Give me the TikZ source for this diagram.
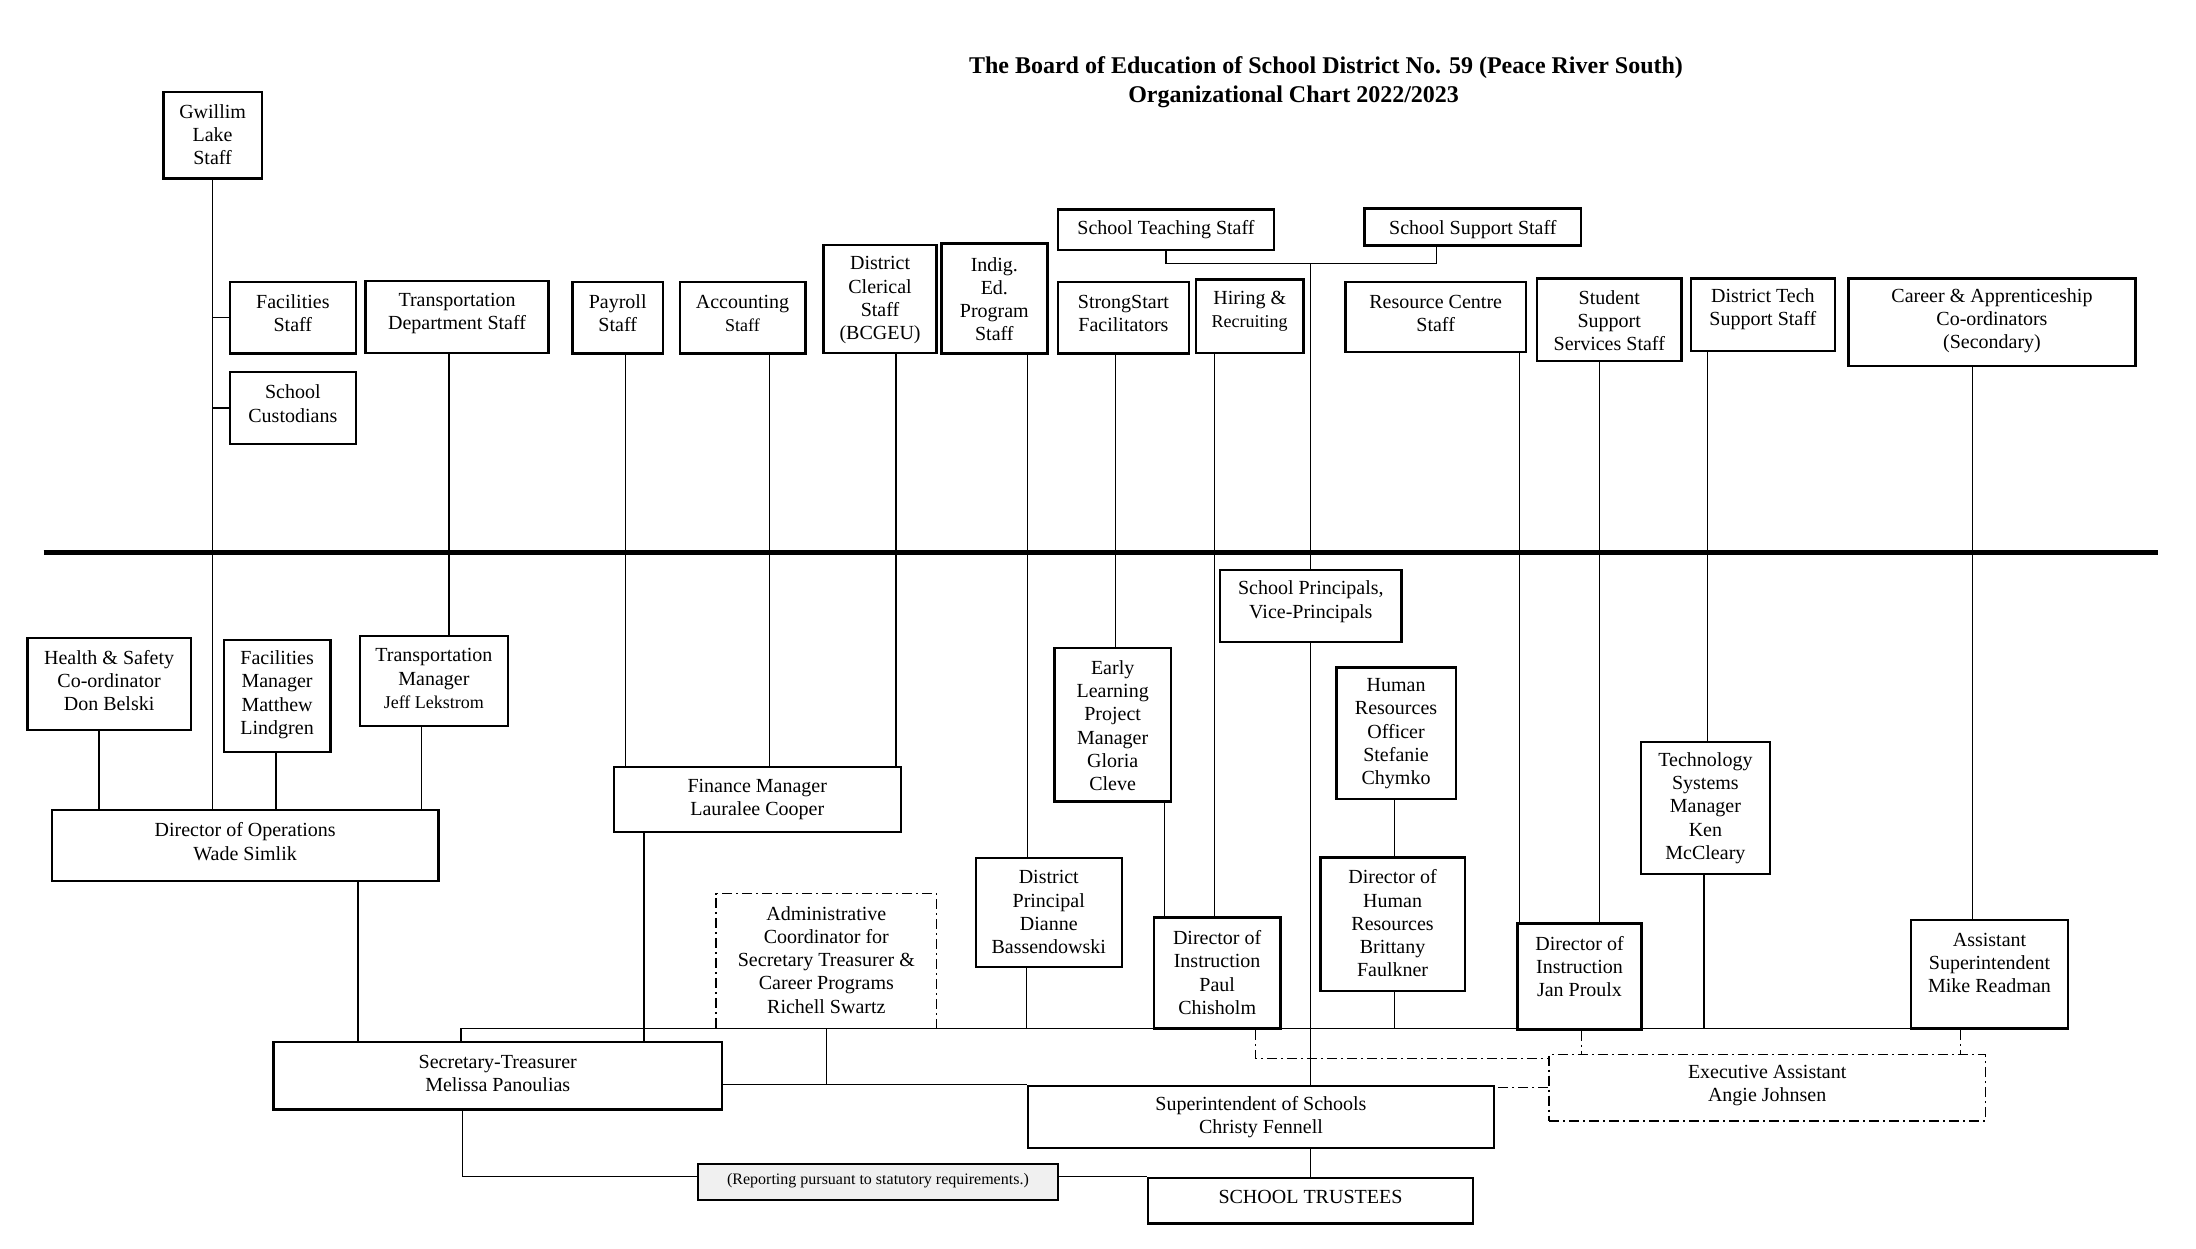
\documentclass[tikz,border=0pt]{standalone}
\usepackage{fontspec}
\setmainfont{Liberation Serif}
\usetikzlibrary{fit}
\newcommand\orgbox[8]{%
  \node[#1, fit={(#3,#4)(#5,#6)}] (#2) {};
  \node[txt] (#2-t) at ({(#3+#5)/2},#7) {#8};}
\newcommand\sm[1]{{\fontsize{9}{10}\selectfont #1}}
\begin{document}
\begin{tikzpicture}[x=0.5pt,y=-0.5pt,
  bx/.style={draw, line width=1.2pt, inner sep=0pt},
  dbx/.style={draw, line width=0.8pt, inner sep=0pt, dash pattern=on 5pt off 2pt on 1pt off 2pt},
  gbx/.style={draw, line width=1.2pt, inner sep=0pt, fill=gray!12},
  txt/.style={align=center, inner sep=0pt, font=\fontsize{10}{11.6}\selectfont},
  ttl/.style={inner sep=0pt, font=\bfseries\fontsize{12}{14}\selectfont},
  ln/.style={line width=0.7pt},
  dl/.style={line width=0.7pt, dash pattern=on 5pt off 2pt on 1pt off 2pt}]
\useasboundingbox (0,0) rectangle (2196,1248);

% title
\node[ttl] (t1) at (1326,68) {The Board of Education of School District No. 59 (Peace River South)};
\node[ttl] (t2) at (1293.6,96.4) {Organizational Chart 2022/2023};

% top boxes
\orgbox{bx}{gw}{163.5}{91.8}{261.7}{178.6}{134.5}{Gwillim\\Lake\\Staff}
\orgbox{bx}{fs}{230}{281.8}{355.7}{353.6}{313.4}{Facilities\\Staff}
\orgbox{bx}{sc}{230}{371.8}{355.7}{444}{403.6}{School\\Custodians}
\orgbox{bx}{td}{365.5}{281}{548.6}{352.9}{313.6}{Transportation\\Department Staff}
\orgbox{bx}{pay}{572.4}{281.8}{663}{353.6}{313.4}{Payroll\\Staff}
\orgbox{bx}{acc}{679.8}{281.8}{805.3}{353.6}{313.6}{Accounting\\\sm{Staff}}
\orgbox{bx}{clr}{823.6}{245}{936.5}{352.9}{300.3}{District\\Clerical\\Staff\\(BCGEU)}
\orgbox{bx}{ind}{941.4}{243.6}{1047.3}{353.6}{299.2}{Indig.\\Ed.\\Program\\Staff}
\orgbox{bx}{tch}{1057.9}{209.6}{1274}{250}{229.6}{School Teaching Staff}
\orgbox{bx}{sps}{1364.5}{208.6}{1581.2}{245.4}{229.6}{School Support Staff}
\orgbox{bx}{ssf}{1057.9}{281.8}{1189}{353.6}{313.6}{StrongStart\\Facilitators}
\orgbox{bx}{hir}{1196}{279.6}{1303.4}{352.9}{311.6}{Hiring \&\\\sm{Recruiting}}
\orgbox{bx}{rc}{1345.5}{281.8}{1525.8}{351.8}{313.4}{Resource Centre\\Staff}
\orgbox{bx}{sss}{1537}{278.6}{1681.5}{361}{320.8}{Student\\Support\\Services Staff}
\orgbox{bx}{dts}{1690.7}{278.6}{1835}{351}{309.5}{District Tech\\Support Staff}
\orgbox{bx}{car}{1848.5}{278.6}{2135.4}{366}{321}{Career \& Apprenticeship\\Co-ordinators\\(Secondary)}

% divider
\coordinate (hl1) at (43.5,552.5);
\coordinate (hl2) at (2158,552.5);
\draw[line width=2.4pt] (hl1) -- (hl2);

% lower boxes
\orgbox{bx}{hs}{27.4}{637.7}{190.8}{729.8}{680.8}{Health \& Safety\\Co-ordinator\\Don Belski}
\orgbox{bx}{fm}{223.8}{639.9}{330.4}{751.8}{694.7}{Facilities\\Manager\\Matthew\\Lindgren}
\orgbox{bx}{tm}{359.9}{635.9}{507.9}{725.9}{678.5}{Transportation\\Manager\\\sm{Jeff Lekstrom}}
\orgbox{bx}{dops}{51.9}{809.7}{438.4}{880.8}{841.5}{Director of Operations\\Wade Simlik}
\orgbox{bx}{fin}{613.8}{766.7}{900.7}{832}{799.8}{Finance Manager\\Lauralee Cooper}
\orgbox{bx}{el}{1054.4}{647.8}{1170.9}{801.3}{725.6}{Early\\Learning\\Project\\Manager\\Gloria\\Cleve}
\orgbox{bx}{sp}{1220}{569.7}{1401.6}{642}{601.7}{School Principals,\\Vice-Principals}
\orgbox{bx}{hro}{1336.4}{667.5}{1455.7}{798.7}{733.8}{Human\\Resources\\Officer\\Stefanie\\Chymko}
\orgbox{bx}{tsm}{1640.9}{741.7}{1769.9}{873.7}{808.2}{Technology\\Systems\\Manager\\Ken\\McCleary}
\orgbox{bx}{dp}{975.8}{858}{1121.7}{966.8}{912.2}{District\\Principal\\Dianne\\Bassendowski}
\orgbox{dbx}{ac}{716.2}{893.5}{936.5}{1028.6}{959.8}{Administrative\\Coordinator for\\Secretary Treasurer \&\\Career Programs\\Richell Swartz}
\orgbox{bx}{pc}{1154}{917.6}{1280.3}{1028.6}{972.5}{Director of\\Instruction\\Paul\\Chisholm}
\orgbox{bx}{hrd}{1320.3}{857.5}{1464.8}{990.9}{923.3}{Director of\\Human\\Resources\\Brittany\\Faulkner}
\orgbox{bx}{jp}{1517.4}{923.3}{1641.6}{1029.5}{966.4}{Director of\\Instruction\\Jan Proulx}
\orgbox{bx}{as}{1911}{919.8}{2068}{1028.6}{962.9}{Assistant\\Superintendent\\Mike Readman}
\orgbox{bx}{st}{273.6}{1041.8}{721.9}{1109.4}{1073.4}{Secretary-Treasurer\\Melissa Panoulias}
\orgbox{bx}{sup}{1027.7}{1085.7}{1494.2}{1148}{1117.5}{Superintendent of Schools\\Christy Fennell}
\orgbox{dbx}{ea}{1549}{1054.5}{1985.3}{1120.8}{1085.5}{Executive Assistant\\Angie Johnsen}
\orgbox{bx}{tr}{1147.7}{1177.8}{1473.2}{1223.4}{1197.1}{SCHOOL TRUSTEES}

% connectors (upper)
\draw[ln] (gw.south) -- (gw.south |- dops.north);
\draw[ln] (gw.south |- fs.west) -- (fs.west);
\draw[ln] (gw.south |- sc.west) -- (sc.west);
\draw[ln] (td.south -| 449,0) -- (tm.north -| 449,0);
\draw[ln] (pay.south -| 625.7,0) -- (fin.north -| 625.7,0);
\draw[ln] (acc.south -| 769.6,0) -- (fin.north -| 769.6,0);
\draw[ln] (clr.south -| 895.8,0) -- (fin.north -| 895.8,0);
\draw[ln] (ind.south -| 1027.7,0) -- (dp.north -| 1027.7,0);
\draw[ln] (ssf.south -| 1115.4,0) -- (el.north -| 1115.4,0);
\draw[ln] (hir.south -| 1214.3,0) -- (pc.north -| 1214.3,0);
\coordinate (tj) at (1310.5,263.6);
\draw[ln] (tch.south) |- (tj) -| (sps.south -| 1436.7,0);
\draw[ln] (tj) -- (tj |- sp.north);
\draw[ln] (tj |- sp.south) -- (tj |- sup.north);
\draw[ln] (tj |- sup.south) -- (tj |- tr.north);
\draw[ln] (rc.south -| 1519.5,0) -- (jp.north -| 1519.5,0);
\draw[ln] (sss.south -| 1599.5,0) -- (jp.north -| 1599.5,0);
\draw[ln] (dts.south -| 1707.5,0) -- (tsm.north -| 1707.5,0);
\draw[ln] (car.south -| 1972.7,0) -- (as.north -| 1972.7,0);

% connectors (lower)
\draw[ln] (hs.south -| 99,0) -- (dops.north -| 99,0);
\draw[ln] (fm.south -| 276,0) -- (dops.north -| 276,0);
\draw[ln] (tm.south -| 421.6,0) -- (dops.north -| 421.6,0);
\draw[ln] (el.south -| 1164.5,0) -- (pc.north -| 1164.5,0);
\draw[ln] (hro.south -| 1394.6,0) -- (hrd.north -| 1394.6,0);
\coordinate (busL) at (461,1028.3);
\draw[ln] (st.north -| busL) -- (busL) -- (busL -| as.west);
\draw[ln] (dp.south -| 1026.3,0) -- (busL -| 1026.3,0);
\draw[ln] (hrd.south -| 1394.6,0) -- (busL -| 1394.6,0);
\draw[ln] (tsm.south -| 1704,0) -- (busL -| 1704,0);
\draw[ln] (dops.south -| 357.8,0) -- (st.north -| 357.8,0);
\draw[ln] (fin.south -| 644,0) -- (st.north -| 644,0);
\draw[ln] (st.east |- sup.north west) -- (sup.north west);
\draw[ln] (ac.south) -- (ac.south |- sup.north west);
\draw[ln] (st.south -| 462.3,0) |- (tr.north west);

% dash-dot connectors
\draw[dl] (pc.south -| 1255.7,0) |- ([yshift=-2.5pt]ea.north west);
\draw[dl] (jp.south -| 1581.2,0) -- (ea.north -| 1581.2,0);
\draw[dl] (as.south -| 1960.7,0) -- (ea.north -| 1960.7,0);
\draw[dl] (ea.west) -- (ea.west -| sup.east);

% reporting note (drawn over the line)
\orgbox{gbx}{rep}{698}{1163.8}{1057.9}{1199.7}{1180.9}{\fontsize{8}{9}\selectfont (Reporting pursuant to statutory requirements.)}
\end{tikzpicture}
\end{document}
